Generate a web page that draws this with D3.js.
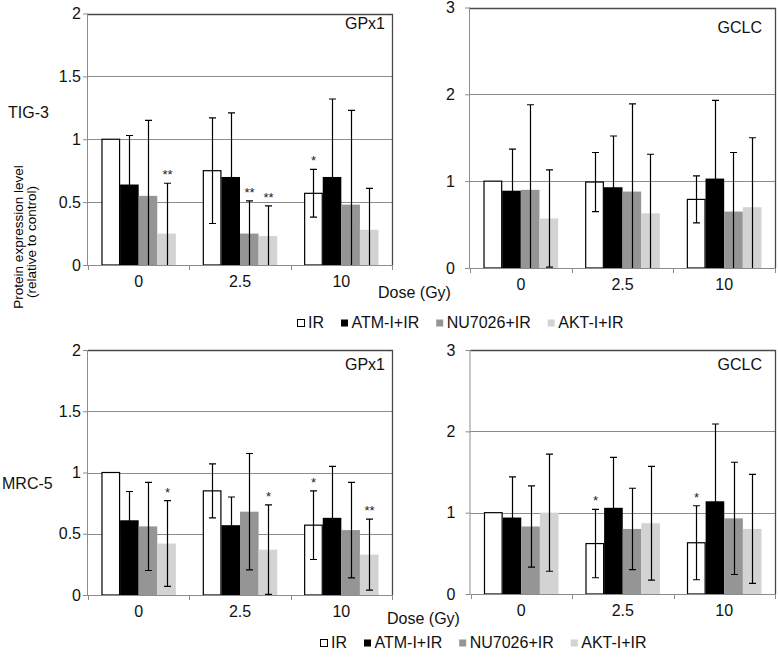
<!DOCTYPE html>
<html>
<head>
<meta charset="utf-8">
<script src="https://cdn.jsdelivr.net/npm/d3@7"></script>
<style>
  html, body { margin: 0; padding: 0; background: #fff; }
  svg { display: block; font-family: "Liberation Sans", Arial, sans-serif; }
</style>
</head>
<body>
<svg id="chart" width="778" height="658"></svg>
<script>
// ---------------- DATA ----------------
const doses = ["0", "2.5", "10"];
const series = ["IR", "ATM-I+IR", "NU7026+IR", "AKT-I+IR"];
const seriesColors = ["#ffffff", "#000000", "#959595", "#d3d3d3"];

// rows = dose, columns = series
const tig3Gpx1Mean = [[1.00, 0.64, 0.55, 0.25], [0.75, 0.70, 0.25, 0.23], [0.57, 0.70, 0.48, 0.28]];
const tig3Gpx1Err  = [[0, 0.39, 0.60, 0.40], [0.42, 0.51, 0.26, 0.24], [0.19, 0.62, 0.75, 0.33]];
const tig3Gpx1Sig  = [["", "", "", "**"], ["", "", "**", "**"], ["*", "", "", ""]];

const tig3GclcMean = [[1.00, 0.89, 0.90, 0.57], [0.99, 0.93, 0.88, 0.63], [0.79, 1.03, 0.65, 0.70]];
const tig3GclcErr  = [[0, 0.48, 0.98, 0.56], [0.34, 0.59, 1.01, 0.68], [0.27, 0.90, 0.68, 0.80]];
const tig3GclcSig  = [["", "", "", ""], ["", "", "", ""], ["", "", "", ""]];

const mrc5Gpx1Mean = [[1.00, 0.61, 0.56, 0.42], [0.85, 0.57, 0.68, 0.37], [0.57, 0.63, 0.53, 0.33]];
const mrc5Gpx1Err  = [[0, 0.235, 0.36, 0.35], [0.22, 0.23, 0.475, 0.365], [0.28, 0.42, 0.39, 0.29]];
const mrc5Gpx1Sig  = [["", "", "", "*"], ["", "", "", "*"], ["*", "", "", "**"]];

const mrc5GclcMean = [[1.00, 0.94, 0.83, 1.00], [0.62, 1.06, 0.80, 0.87], [0.63, 1.14, 0.93, 0.80]];
const mrc5GclcErr  = [[0, 0.50, 0.50, 0.72], [0.42, 0.62, 0.50, 0.70], [0.455, 0.95, 0.69, 0.67]];
const mrc5GclcSig  = [["", "", "", ""], ["*", "", "", ""], ["*", "", "", ""]];

const gpx1Ticks = [0, 0.5, 1, 1.5, 2];
const gclcTicks = [0, 1, 2, 3];

const cellLines = ["TIG-3", "MRC-5"];
const yTitleLines = ["Protein expression level", "(relative to control)"];
const xTitle = "Dose (Gy)";

// ---------------- LAYOUT ----------------
const FONT = 16;
const TXT = "#111";
const svg = d3.select("#chart");

const panels = [
  { mean: tig3Gpx1Mean, err: tig3Gpx1Err, sig: tig3Gpx1Sig, ticks: gpx1Ticks, title: "GPx1",
    left: 88, right: 392, top: 13.5, bottom: 265, labelGap: 6, titleX: 385, titleY: 29 },
  { mean: tig3GclcMean, err: tig3GclcErr, sig: tig3GclcSig, ticks: gclcTicks, title: "GCLC",
    left: 470, right: 775, top: 7.5, bottom: 268, labelGap: 14, titleX: 762, titleY: 33 },
  { mean: mrc5Gpx1Mean, err: mrc5Gpx1Err, sig: mrc5Gpx1Sig, ticks: gpx1Ticks, title: "GPx1",
    left: 88, right: 392, top: 350, bottom: 595, labelGap: 6, titleX: 385, titleY: 370 },
  { mean: mrc5GclcMean, err: mrc5GclcErr, sig: mrc5GclcSig, ticks: gclcTicks, title: "GCLC",
    left: 470.5, right: 775, top: 350, bottom: 594, labelGap: 14, titleX: 762, titleY: 370 }
];

const gridColor = "#8c8c8c";
const borderColor = "#4a4a4a";

panels.forEach(p => {
  const g = svg.append("g");
  const yMax = d3.max(p.ticks);
  const y = d3.scaleLinear().domain([0, yMax]).range([p.bottom, p.top]);
  const x0 = d3.scaleBand().domain(doses).range([p.left, p.right])
    .paddingInner(0.266).paddingOuter(0.133);
  const x1 = d3.scaleBand().domain(series).range([0, x0.bandwidth()]).padding(0);

  // gridlines
  g.append("g").selectAll("line").data(p.ticks.filter(t => t > 0)).join("line")
    .attr("x1", p.left).attr("x2", p.right)
    .attr("y1", d => Math.round(y(d)) + 0.5).attr("y2", d => Math.round(y(d)) + 0.5)
    .attr("stroke", gridColor).attr("stroke-width", 1);

  // border top & right
  g.append("path")
    .attr("d", `M${p.left},${Math.round(y(yMax)) + 0.5}H${Math.round(p.right) + 0.5}V${p.bottom}`)
    .attr("fill", "none").attr("stroke", borderColor).attr("stroke-width", 1.3);

  // bars
  const rows = [];
  doses.forEach((d, i) => series.forEach((s, j) => {
    rows.push({ dose: d, s, j, v: p.mean[i][j], e: p.err[i][j], sig: p.sig[i][j] });
  }));

  g.append("g").selectAll("rect").data(rows).join("rect")
    .attr("x", d => x0(d.dose) + x1(d.s) + (d.j === 0 ? 0.5 : 0))
    .attr("width", d => x1.bandwidth() - (d.j === 0 ? 1 : 0))
    .attr("y", d => y(d.v))
    .attr("height", d => y(0) - y(d.v))
    .attr("fill", d => seriesColors[d.j])
    .attr("stroke", d => d.j === 0 ? "#000" : "none")
    .attr("stroke-width", 1.2);

  // error bars
  const eb = g.append("g").attr("stroke", "#000").attr("stroke-width", 1.2).attr("fill", "none");
  const withErr = rows.filter(d => d.e > 0);
  const cx = d => Math.round(x0(d.dose) + x1(d.s) + x1.bandwidth() / 2) + 0.5;
  const cap = 3.5;
  eb.selectAll("path").data(withErr).join("path")
    .attr("d", d => {
      const hi = y(d.v + d.e);
      const loV = d.v - d.e;
      const lo = y(Math.max(0, loV));
      let s = `M${cx(d)},${lo}V${hi}M${cx(d) - cap},${hi}H${cx(d) + cap}`;
      if (loV > 0) s += `M${cx(d) - cap},${lo}H${cx(d) + cap}`;
      return s;
    });

  // significance marks
  g.append("g").selectAll("text").data(rows.filter(d => d.sig)).join("text")
    .attr("x", d => cx(d))
    .attr("y", d => y(d.v + d.e) - 4)
    .attr("text-anchor", "middle")
    .attr("font-size", 13)
    .attr("fill", "#222")
    .text(d => d.sig);

  // y axis
  const yAxis = g.append("g").attr("transform", `translate(${p.left},0)`)
    .call(d3.axisLeft(y).tickValues(p.ticks).tickSize(5).tickPadding(p.labelGap - 4)
      .tickFormat(d => String(d)));
  yAxis.select(".domain").attr("stroke", gridColor).attr("d", `M-0.5,${p.top}V${p.bottom}`);
  yAxis.selectAll(".tick line").attr("stroke", gridColor);
  yAxis.selectAll("text").attr("font-size", FONT).attr("fill", TXT)
    .attr("font-family", "Liberation Sans, Arial, sans-serif");

  // x axis
  const xAxis = g.append("g").attr("transform", `translate(0,${p.bottom})`)
    .call(d3.axisBottom(x0).tickSize(0).tickPadding(11));
  xAxis.select(".domain").attr("stroke", gridColor).attr("d", `M${p.left},0.5H${p.right}`);
  xAxis.selectAll("text").attr("font-size", FONT).attr("fill", TXT)
    .attr("font-family", "Liberation Sans, Arial, sans-serif");
  // boundary ticks
  const bounds = d3.range(doses.length + 1).map(i => p.left + i * x0.step());
  xAxis.append("g").selectAll("line").data(bounds).join("line")
    .attr("x1", d => Math.round(d) + 0.5).attr("x2", d => Math.round(d) + 0.5)
    .attr("y1", 0).attr("y2", 5).attr("stroke", gridColor);

  // panel title
  g.append("text").attr("x", p.titleX).attr("y", p.titleY)
    .attr("text-anchor", "end").attr("font-size", FONT).attr("fill", TXT).text(p.title);
});

// cell-line labels
svg.append("text").attr("x", 8).attr("y", 118).attr("font-size", FONT).attr("fill", TXT).text(cellLines[0]);
svg.append("text").attr("x", 2).attr("y", 489).attr("font-size", FONT).attr("fill", TXT).text(cellLines[1]);

// y title
svg.append("g").selectAll("text").data(yTitleLines).join("text")
  .attr("transform", (d, i) => `translate(${i === 0 ? 23 : 36},${i === 0 ? 237 : 242}) rotate(-90)`)
  .attr("text-anchor", "middle").attr("font-size", 13.5).attr("fill", "#000").text(d => d);

// x titles
svg.append("text").attr("x", 378).attr("y", 298).attr("font-size", FONT).attr("fill", TXT).text(xTitle);
svg.append("text").attr("x", 387).attr("y", 624).attr("font-size", FONT).attr("fill", TXT).text(xTitle);

// legends
function legend(x, yBase) {
  const lg = svg.append("g");
  let cx = x;
  series.forEach((s, j) => {
    lg.append("rect").attr("x", cx + 0.5).attr("y", yBase - 8.5).attr("width", 7).attr("height", 7)
      .attr("fill", seriesColors[j]).attr("stroke", j === 0 ? "#000" : "none").attr("stroke-width", 1);
    const t = lg.append("text").attr("x", cx + 11).attr("y", yBase)
      .attr("font-size", FONT).attr("fill", TXT).text(s);
    cx += 11 + t.node().getComputedTextLength() + 16.5;
  });
}
legend(297, 328);
legend(320, 648);
</script>
</body>
</html>
